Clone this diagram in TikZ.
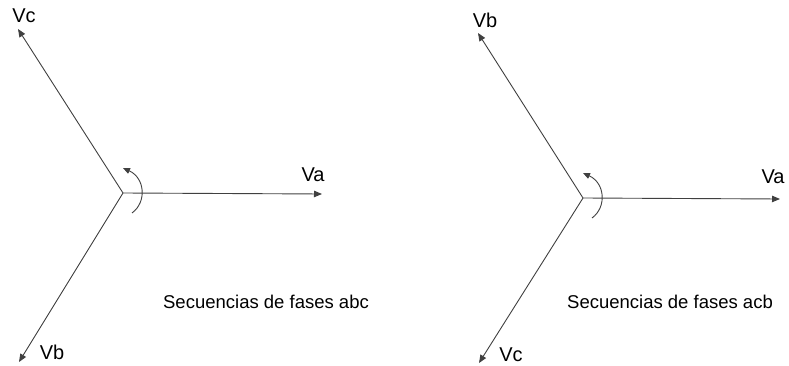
\documentclass[tikz,border=0pt]{standalone}
\usepackage{fontspec}
\setmainfont{Liberation Sans}
\usetikzlibrary{arrows.meta}
\begin{document}
\begin{tikzpicture}[x=1pt,y=-1pt,
  phasor/.style={draw=black!75, line width=0.9pt, -{Triangle[length=8pt,width=6.5pt]}},
  rot/.style={draw=black!75, line width=0.9pt, -{Triangle[length=7pt,width=6pt]}},
  lbl/.style={inner sep=0pt, font=\fontsize{20}{24}\selectfont},
  captext/.style={inner sep=0pt, font=\fontsize{18.5}{22}\selectfont}]
\useasboundingbox (0,0) rectangle (789,366);
% left diagram
\coordinate (O1) at (123,193);
\coordinate (a1) at (322,194);
\coordinate (c1) at (18,29);
\coordinate (b1) at (19,362);
\draw[phasor] (O1) -- (a1);
\draw[phasor] (O1) -- (c1);
\draw[phasor] (O1) -- (b1);
\coordinate (r1s) at (132,213);
\coordinate (r1e) at (123,168);
\draw[rot] (r1s) .. controls (147,202) and (145,178) .. (r1e);
\node[lbl] (la1) at (313,175) {Va};
\node[lbl] (lc1) at (24,16) {Vc};
\node[lbl] (lb1) at (52,352) {Vb};
\node[captext] (cap1) at (266,302) {Secuencias de fases abc};
% right diagram
\coordinate (O2) at (583,198);
\coordinate (a2) at (780,199);
\coordinate (b2) at (478,33);
\coordinate (c2) at (479,363);
\draw[phasor] (O2) -- (a2);
\draw[phasor] (O2) -- (b2);
\draw[phasor] (O2) -- (c2);
\coordinate (r2s) at (592,218);
\coordinate (r2e) at (583,173);
\draw[rot] (r2s) .. controls (607,207) and (605,183) .. (r2e);
\node[lbl] (la2) at (773,177) {Va};
\node[lbl] (lb2) at (485,20) {Vb};
\node[lbl] (lc2) at (511,355) {Vc};
\node[captext] (cap2) at (670,302) {Secuencias de fases acb};
\end{tikzpicture}
\end{document}
